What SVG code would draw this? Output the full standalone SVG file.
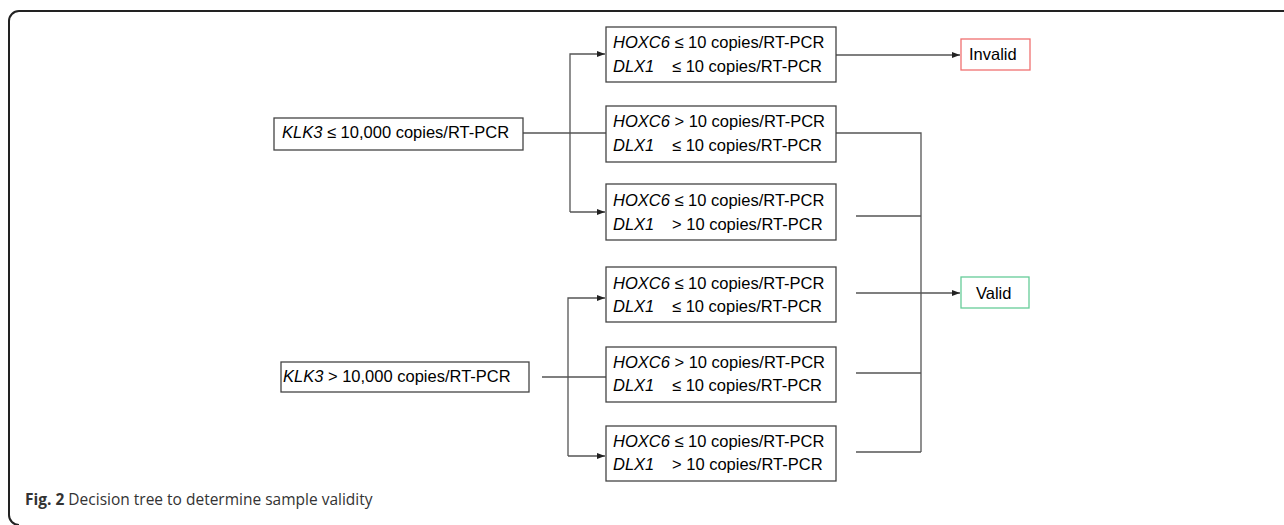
<svg xmlns="http://www.w3.org/2000/svg" width="1284" height="525" viewBox="0 0 1284 525">
<style>
.frame{fill:none;stroke:#222;stroke-width:2}
.box{fill:#fff;stroke:#444;stroke-width:1.3}
.inv{fill:#fff;stroke:#f07070;stroke-width:1.3}
.val{fill:#fff;stroke:#66cc99;stroke-width:1.3}
.t{font-family:"Liberation Sans",Arial,sans-serif;font-size:16.5px;fill:#000}
.i{font-style:italic}
.ln{fill:none;stroke:#555;stroke-width:1.3}
.cap{font-family:"Open Sans","Liberation Sans",sans-serif;font-size:15.5px;fill:#333}
</style>
<defs>
<marker id="ah" viewBox="0 0 8 6" refX="8" refY="3" markerWidth="8" markerHeight="6" markerUnits="userSpaceOnUse" orient="auto">
<path d="M0,0 L8,3 L0,6 Z" fill="#222"/>
</marker>
</defs>
<path class="frame" d="M1284,11 H19 A10,10 0 0 0 9,21 V515 A10,10 0 0 0 19,525"/>
<g id="connectors">
<path class="ln" d="M523,133 H606"/>
<path class="ln" d="M570,212 V54 H605" marker-end="url(#ah)"/>
<path class="ln" d="M570,212 H605" marker-end="url(#ah)"/>
<path class="ln" d="M542,377 H606"/>
<path class="ln" d="M568,456 V298 H605" marker-end="url(#ah)"/>
<path class="ln" d="M568,456 H605" marker-end="url(#ah)"/>
<path class="ln" d="M836,55 H960" marker-end="url(#ah)"/>
<path class="ln" d="M836,133 H921 V452"/>
<path class="ln" d="M856,216 H921"/>
<path class="ln" d="M856,373 H921"/>
<path class="ln" d="M856,452 H921"/>
<path class="ln" d="M856,293 H960" marker-end="url(#ah)"/>
</g>
<g id="klk3-low">
<rect class="box" x="274" y="118" width="249" height="32"/>
<text class="t" x="282" y="138"><tspan class="i">KLK3</tspan> ≤ 10,000 copies/RT-PCR</text>
</g>
<g id="klk3-high">
<rect class="box" x="281" y="362" width="248" height="30"/>
<text class="t" x="283" y="382"><tspan class="i">KLK3</tspan> &gt; 10,000 copies/RT-PCR</text>
</g>
<g id="b1">
<rect class="box" x="606" y="27" width="230" height="55"/>
<text class="t" x="613" y="48"><tspan class="i">HOXC6</tspan> ≤ 10 copies/RT-PCR</text>
<text class="t" y="72"><tspan class="i" x="613">DLX1</tspan><tspan x="672">≤ 10 copies/RT-PCR</tspan></text>
</g>
<g id="b2">
<rect class="box" x="606" y="106" width="230" height="56"/>
<text class="t" x="613" y="127"><tspan class="i">HOXC6</tspan> &gt; 10 copies/RT-PCR</text>
<text class="t" y="151"><tspan class="i" x="613">DLX1</tspan><tspan x="672">≤ 10 copies/RT-PCR</tspan></text>
</g>
<g id="b3">
<rect class="box" x="606" y="184" width="230" height="56"/>
<text class="t" x="613" y="206"><tspan class="i">HOXC6</tspan> ≤ 10 copies/RT-PCR</text>
<text class="t" y="230"><tspan class="i" x="613">DLX1</tspan><tspan x="672">&gt; 10 copies/RT-PCR</tspan></text>
</g>
<g id="b4">
<rect class="box" x="606" y="267" width="230" height="55"/>
<text class="t" x="613" y="289"><tspan class="i">HOXC6</tspan> ≤ 10 copies/RT-PCR</text>
<text class="t" y="312"><tspan class="i" x="613">DLX1</tspan><tspan x="672">≤ 10 copies/RT-PCR</tspan></text>
</g>
<g id="b5">
<rect class="box" x="606" y="347" width="230" height="55"/>
<text class="t" x="613" y="368"><tspan class="i">HOXC6</tspan> &gt; 10 copies/RT-PCR</text>
<text class="t" y="391"><tspan class="i" x="613">DLX1</tspan><tspan x="672">≤ 10 copies/RT-PCR</tspan></text>
</g>
<g id="b6">
<rect class="box" x="606" y="426" width="230" height="55"/>
<text class="t" x="613" y="447"><tspan class="i">HOXC6</tspan> ≤ 10 copies/RT-PCR</text>
<text class="t" y="470"><tspan class="i" x="613">DLX1</tspan><tspan x="672">&gt; 10 copies/RT-PCR</tspan></text>
</g>
<g id="invalid">
<rect class="inv" x="961" y="39" width="69" height="31"/>
<text class="t" x="969" y="60">Invalid</text>
</g>
<g id="valid">
<rect class="val" x="961" y="277" width="68" height="31"/>
<text class="t" x="976" y="299">Valid</text>
</g>
<text class="cap" x="25" y="505"><tspan font-weight="bold">Fig. 2</tspan> Decision tree to determine sample validity</text>
</svg>
